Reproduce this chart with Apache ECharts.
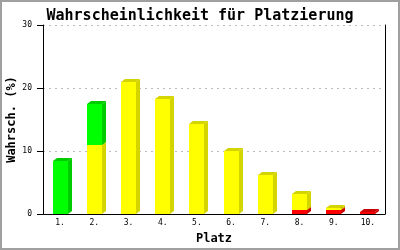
<!DOCTYPE html>
<html>
<head>
<meta charset="utf-8">
<script src="https://cdn.jsdelivr.net/npm/echarts@6/dist/echarts.min.js"></script>
<style>
html,body{margin:0;padding:0;background:#fff;}
#c{width:400px;height:250px;}
</style>
</head>
<body>
<div id="c"></div>
<script>
const categories = ['1.','2.','3.','4.','5.','6.','7.','8.','9.','10.'];
const redValues    = [0, 0, 0, 0, 0, 0, 0, 0.6, 0.7, 0.3];
const yellowValues = [0, 11, 21, 18.2, 14.3, 10, 6.2, 2.5, 0.3, 0];
const greenValues  = [8.4, 6.5, 0, 0, 0, 0, 0, 0, 0, 0];
const yTicks = [0, 10, 20, 30];

const FONT = '"DejaVu Sans Mono", "Liberation Mono", monospace';

function stacked(lists){
  const bases = categories.map(()=>0);
  return lists.map(vals => vals.map((v,i)=>{
    const b = bases[i]; bases[i] += v; return [i, b, b+v];
  }));
}
const [redData, yellowData, greenData] = stacked([redValues, yellowValues, greenValues]);

function makeRender(front, dark){
  return function(params, api){
    const base = api.value(1), top = api.value(2);
    if (!(top - base > 0)) return;
    const p0 = api.coord([api.value(0), base]);
    const p1 = api.coord([api.value(0), top]);
    const bw = Math.round(api.size([1,0])[0] * 0.44);
    const l = Math.round(p0[0] - bw/2), r = l + bw;
    const yb = Math.round(p0[1]), yt = Math.round(p1[1]);
    const dx = 4, dy = 3;
    return {
      type: 'group',
      children: [
        {type:'polygon', shape:{points:[[r,yb],[r+dx,yb-dy],[r+dx,yt-dy],[r,yt]]}, style:{fill:dark}},
        {type:'polygon', shape:{points:[[l,yt],[l+dx,yt-dy],[r+dx,yt-dy],[r,yt]]}, style:{fill:dark}},
        {type:'rect', shape:{x:l, y:yt, width:bw, height:yb-yt}, style:{fill:front}}
      ]
    };
  };
}

const chart = echarts.init(document.getElementById('c'), null, {renderer:'canvas'});
chart.setOption({
  backgroundColor: '#fff',
  animation: false,
  title: {
    text: 'Wahrscheinlichkeit für Platzierung',
    left: 'center', top: 4,
    textStyle: {fontFamily: FONT, fontSize: 15, fontWeight: 'bold', color: '#000'}
  },
  graphic: [{
    id: 'frame',
    type: 'rect', shape: {x:1, y:1, width:398, height:248},
    style: {fill: 'none', stroke: '#a0a0a0', lineWidth: 2}, silent: true
  }],
  grid: {left: 43, right: 15, top: 25, bottom: 36, containLabel: false, outerBoundsMode: 'none'},
  xAxis: {
    type: 'category', data: categories,
    name: 'Platz', nameLocation: 'middle', nameGap: 19, nameMoveOverlap: false,
    nameTextStyle: {fontFamily: FONT, fontSize: 12, fontWeight: 'bold', color: '#000'},
    axisLine: {lineStyle: {color: '#000', width: 1}},
    axisTick: {show: false},
    axisLabel: {fontFamily: FONT, fontSize: 8, color: '#000', margin: 5}
  },
  yAxis: [{
    type: 'value', position: 'left', min: yTicks[0], max: yTicks[yTicks.length-1], interval: 10,
    name: 'Wahrsch. (%)', nameLocation: 'middle', nameGap: 25, nameMoveOverlap: false,
    nameTextStyle: {fontFamily: FONT, fontSize: 12, fontWeight: 'bold', color: '#000'},
    axisLine: {show: true, onZero: false, lineStyle: {color: '#000', width: 1}},
    axisTick: {show: true, inside: false, length: 5, lineStyle: {color: '#000', width: 1}},
    axisLabel: {fontFamily: FONT, fontSize: 8, color: '#000', margin: 11},
    splitLine: {show: true, lineStyle: {color: '#bbbbbb', type: [2, 4]}}
  },{
    type: 'value', position: 'right', min: 0, max: 30, interval: 10,
    axisLine: {show: true, onZero: false, lineStyle: {color: '#000', width: 1}},
    axisTick: {show: false}, axisLabel: {show: false}, splitLine: {show: false}
  }],
  series: [
    {type:'custom', name:'rot', data: redData, encode:{x:0, y:[1,2]}, renderItem: makeRender('#ff0000', '#cc0000')},
    {type:'custom', name:'gelb', data: yellowData, encode:{x:0, y:[1,2]}, renderItem: makeRender('#ffff00', '#d4d400')},
    {type:'custom', name:'grün', data: greenData, encode:{x:0, y:[1,2]}, renderItem: makeRender('#00ff00', '#00cc00')}
  ]
});

// Tick marks on the left value axis, placed through the axis scale.
const axisX = 43;
const tickMarks = yTicks.map((v, i) => {
  const y = Math.round(chart.convertToPixel({yAxisIndex: 0}, v)) + 0.5;
  return {
    id: 'ytick' + i, type: 'line', silent: true, z: 10,
    shape: {x1: axisX - 6, y1: y, x2: axisX, y2: y},
    style: {stroke: '#000', lineWidth: 1}
  };
});
chart.setOption({graphic: tickMarks});
</script>
</body>
</html>
